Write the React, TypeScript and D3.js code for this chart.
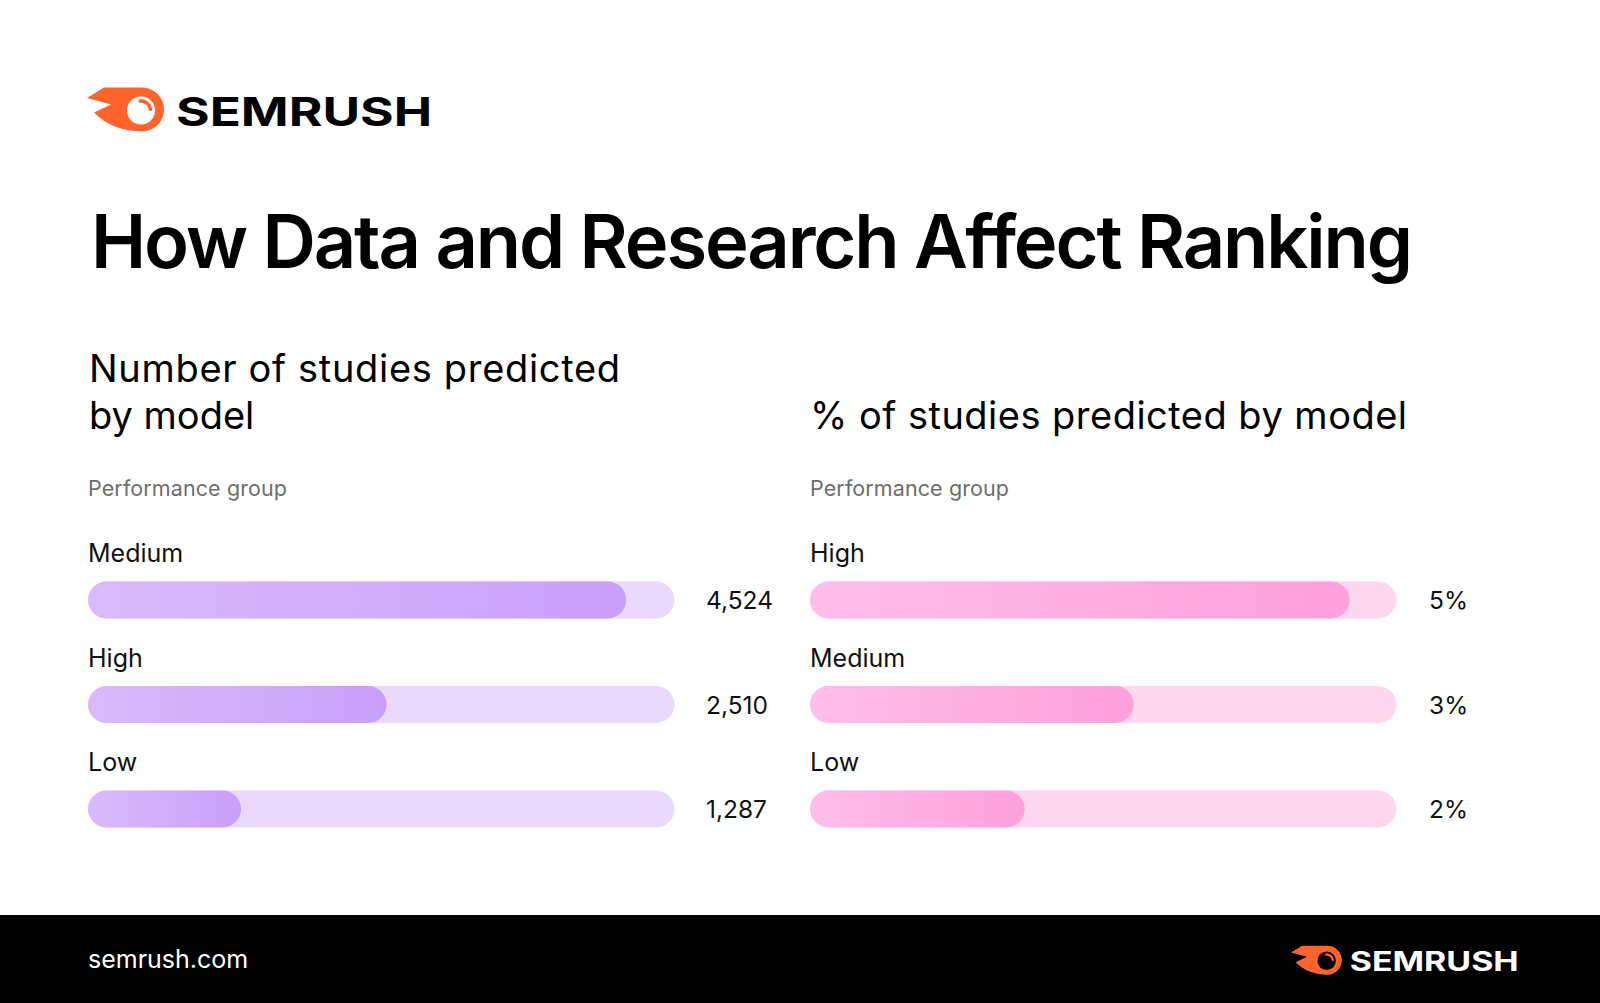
import React from "react";
import * as d3 from "d3";

const leftCategories = ["Medium", "High", "Low"];
const leftValues = [4524, 2510, 1287];
const leftLabels = ["4,524", "2,510", "1,287"];
const rightCategories = ["High", "Medium", "Low"];
const rightValues = [4.6, 2.76, 1.83];
const rightLabels = ["5%", "3%", "2%"];

const W = 1600;
const H = 1003;
const FONT = "Inter, 'Noto Sans', sans-serif";
const ORANGE = "#FF642D";

function Logo({ x, y, s, bg, fg }: { x: number; y: number; s: number; bg: string; fg: string }) {
  const cx = 54, cy = 25.5, r = 9.5;
  const a0 = (-95 * Math.PI) / 180, a1 = (-8 * Math.PI) / 180;
  const arc = `M${cx + r * Math.cos(a0)},${cy + r * Math.sin(a0)} A${r},${r} 0 0 1 ${cx + r * Math.cos(a1)},${cy + r * Math.sin(a1)}`;
  return (
    <g transform={`translate(${x},${y}) scale(${s})`}>
      <path
        d="M17,2.5 L55,2.5 A22,22 0 1 1 55,46.5 Q25,46 7,27.5 L24,19.5 L0,13 Z"
        fill={ORANGE}
      />
      <circle cx={cx} cy={cy} r={14} fill={bg} />
      <path d={arc} fill="none" stroke={ORANGE} strokeWidth={3.6} strokeLinecap="round" />
      <text x={89} y={41} fontFamily={FONT} fontWeight={700} fontSize={40} fill={fg} textLength={256} lengthAdjust="spacingAndGlyphs">
        SEMRUSH
      </text>
    </g>
  );
}

function Panel({
  x0, cats, values, labels, domainMax, trackColor, gradId, title, valueX,
}: {
  x0: number; cats: string[]; values: number[]; labels: string[]; domainMax: number;
  trackColor: string; gradId: string; title: React.ReactNode; valueX: number;
}) {
  const trackW = 586.5;
  const barH = 37;
  const x = d3.scaleLinear().domain([0, domainMax]).range([0, trackW]);
  const y = d3.scalePoint<string>().domain(cats).range([600, 809]);
  return (
    <g>
      {title}
      <text x={x0} y={496} fontFamily={FONT} fontSize={21.5} fill="#6e6e6e" textLength={199} lengthAdjust="spacing">
        Performance group
      </text>
      {cats.map((c, i) => {
        const cy = y(c)!;
        const top = cy - barH / 2;
        return (
          <g key={c}>
            <text x={x0} y={top - 19.5} fontFamily={FONT} fontSize={25} fill="#111">
              {c}
            </text>
            <rect x={x0} y={top} width={trackW} height={barH} rx={barH / 2} fill={trackColor} />
            <rect x={x0} y={top} width={x(values[i])} height={barH} rx={barH / 2} fill={`url(#${gradId})`} />
            <text x={valueX} y={cy + 9} fontFamily={FONT} fontSize={24.5} fill="#111">
              {labels[i]}
            </text>
          </g>
        );
      })}
    </g>
  );
}

export default function App() {
  return (
    <div style={{ position: "absolute", left: 0, top: 0 }}>
      <svg width={W} height={H} viewBox={`0 0 ${W} ${H}`} style={{ display: "block" }}>
        <defs>
          <linearGradient id="gradPurple" x1="0" x2="1" y1="0" y2="0">
            <stop offset="0" stopColor="#D9BBFB" />
            <stop offset="1" stopColor="#C99FFB" />
          </linearGradient>
          <linearGradient id="gradPink" x1="0" x2="1" y1="0" y2="0">
            <stop offset="0" stopColor="#FFBEEB" />
            <stop offset="1" stopColor="#FFA0DB" />
          </linearGradient>
        </defs>
        <rect x={0} y={0} width={W} height={H} fill="#ffffff" />
        <Logo x={87} y={85} s={1} bg="#ffffff" fg="#000000" />
        <text x={91} y={268} fontFamily={FONT} fontWeight={600} fontSize={74} fill="#000" textLength={1322} lengthAdjust="spacing">
          How Data and Research Affect Ranking
        </text>
        <Panel
          x0={88}
          cats={leftCategories}
          values={leftValues}
          labels={leftLabels}
          domainMax={4930}
          trackColor="#EAD9FC"
          gradId="gradPurple"
          valueX={706}
          title={
            <g>
              <text x={89} y={382} fontFamily={FONT} fontWeight={400} fontSize={38} fill="#000" textLength={531} lengthAdjust="spacing">
                Number of studies predicted
              </text>
              <text x={89} y={429} fontFamily={FONT} fontWeight={400} fontSize={38} fill="#000">
                by model
              </text>
            </g>
          }
        />
        <Panel
          x0={810}
          cats={rightCategories}
          values={rightValues}
          labels={rightLabels}
          domainMax={5}
          trackColor="#FFD7EF"
          gradId="gradPink"
          valueX={1429}
          title={
            <text x={810} y={429} fontFamily={FONT} fontWeight={400} fontSize={38} fill="#000" textLength={597} lengthAdjust="spacing">
              % of studies predicted by model
            </text>
          }
        />
        <rect x={0} y={915} width={W} height={H - 915} fill="#000" />
        <text x={88} y={968} fontFamily={FONT} fontSize={25} fill="#fff">
          semrush.com
        </text>
        <Logo x={1291} y={944} s={0.66} bg="#000000" fg="#ffffff" />
      </svg>
    </div>
  );
}
